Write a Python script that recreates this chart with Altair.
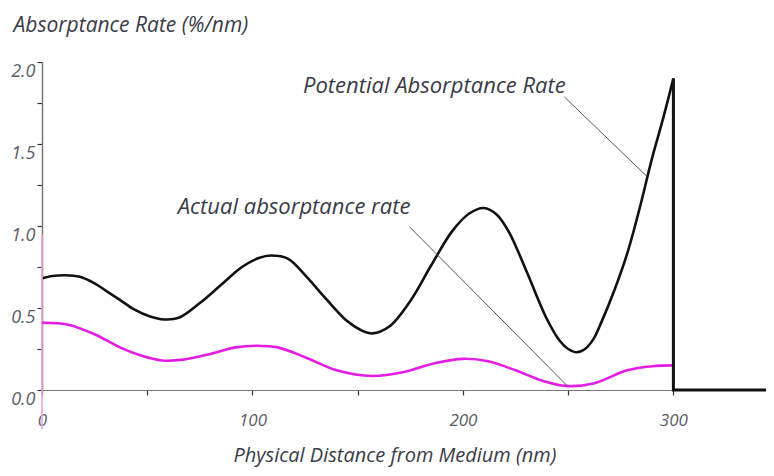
import altair as alt
import pandas as pd

# Potential absorptance rate (black curve)
dist_black = [0, 5, 11, 18, 25, 31, 37, 44, 51, 58, 65, 75, 85, 95, 103, 109, 117, 125, 135, 145, 152, 157,
              165, 175, 185, 195, 203, 210, 216, 222, 230, 240, 246, 250, 254, 258, 262, 266, 272, 278, 284, 290, 295, 300]
rate_black = [0.68, 0.695, 0.70, 0.69, 0.65, 0.60, 0.55, 0.49, 0.45, 0.43, 0.44, 0.53, 0.64, 0.75, 0.805, 0.82, 0.80, 0.70, 0.555, 0.42, 0.362, 0.345,
              0.387, 0.543, 0.762, 0.97, 1.076, 1.11, 1.07, 0.96, 0.73, 0.43, 0.30, 0.25, 0.23, 0.25, 0.31, 0.42, 0.61, 0.83, 1.11, 1.42, 1.65, 1.90]

# Actual absorptance rate (magenta curve)
dist_pink = [0, 12, 25, 37, 47, 57, 67, 80, 92, 102, 112, 125, 140, 157, 172, 187, 200, 212, 225, 237, 249, 262, 278, 290, 300]
rate_pink = [0.41, 0.40, 0.34, 0.26, 0.21, 0.18, 0.185, 0.22, 0.26, 0.27, 0.26, 0.20, 0.12, 0.085, 0.11, 0.165, 0.19, 0.175, 0.12, 0.06, 0.025, 0.04, 0.12, 0.145, 0.15]

# Drop to zero at the medium boundary
drop_x = [300, 300, 344]
drop_y = [1.90, 0.0, 0.0]

# Annotations
note_text = ["Potential Absorptance Rate", "Actual absorptance rate"]
note_x = [124, 64.5]
note_y = [1.81, 1.075]
leader_x = [248.2, 174.7]
leader_y = [1.787, 0.994]
leader_x2 = [287.2, 249.7]
leader_y2 = [1.305, 0.024]

x_ticks = [0, 50, 100, 150, 200, 250, 300]
y_ticks = [0, 0.25, 0.5, 0.75, 1.0, 1.25, 1.5, 1.75, 2.0]

FONT = "Open Sans"
TXT = "#3a3b48"
LAB = "#5a5d68"

df_black = pd.DataFrame({"d": dist_black, "r": rate_black})
df_pink = pd.DataFrame({"d": dist_pink, "r": rate_pink})
df_drop = pd.DataFrame({"d": drop_x, "r": drop_y, "o": list(range(len(drop_x)))})
df_notes = pd.DataFrame({"d": note_x, "r": note_y, "t": note_text})
df_lead = pd.DataFrame({"d": leader_x, "r": leader_y, "d2": leader_x2, "r2": leader_y2})
df_pinkaxis = pd.DataFrame({"d": [0], "r": [0.95], "r2": [-0.24]})

xs = alt.Scale(domain=[0, 344], nice=False, zero=False)
ys = alt.Scale(domain=[0, 2], nice=False)

x_axis = alt.Axis(
    values=x_ticks, labelExpr="datum.value % 100 == 0 ? datum.label : ''",
    title="Physical Distance from Medium (nm)", titleX=191, titleY=71,
    titleAlign="left", titleBaseline="alphabetic", titleAnchor="start",
    titleFont=FONT, titleFontSize=20, titleFontStyle="italic", titleFontWeight="normal", titleColor=TXT,
    labelFont=FONT, labelFontSize=17, labelFontStyle="italic", labelColor=LAB,
    labelBaseline="top", labelPadding=17, labelFlush=False, labelOverlap=False,
    tickSize=5, tickColor="#333333", tickWidth=1.2,
    domainColor="#777777", domainWidth=1.2, grid=False,
)
y_axis = alt.Axis(
    values=y_ticks, format=".1f", labelExpr="datum.value % 0.5 == 0 ? datum.label : ''",
    title="Absorptance Rate (%/nm)", titleAngle=0, titleX=-29, titleY=-31,
    titleAlign="left", titleBaseline="alphabetic",
    titleFont=FONT, titleFontSize=21, titleFontStyle="italic", titleFontWeight="normal", titleColor=TXT,
    labelFont=FONT, labelFontSize=18, labelFontStyle="italic", labelColor=LAB,
    labelBaseline="top", labelPadding=2, labelFlush=False, labelOverlap=False,
    tickSize=5, tickColor="#333333", tickWidth=1.2,
    domainColor="#777777", domainWidth=1.5, grid=False,
)

X = lambda f: alt.X(f, scale=xs, axis=x_axis)
Y = lambda f: alt.Y(f, scale=ys, axis=y_axis)

black = alt.Chart(df_black).mark_line(color="#111111", strokeWidth=2.6, interpolate="catmull-rom").encode(
    x=X("d:Q"), y=Y("r:Q"),
)
pink_axis = alt.Chart(df_pinkaxis).mark_rule(color="#e9a3d9", strokeWidth=1.6).encode(
    x=X("d:Q"), y=Y("r:Q"), y2="r2:Q",
)
pink = alt.Chart(df_pink).mark_line(color="#e41de4", strokeWidth=2.6, interpolate="catmull-rom").encode(
    x=X("d:Q"), y=Y("r:Q"),
)
drop = alt.Chart(df_drop).mark_line(color="#111111", strokeWidth=3).encode(
    x=X("d:Q"), y=Y("r:Q"), order="o:Q",
)
leaders = alt.Chart(df_lead).mark_rule(color="#555555", strokeWidth=1).encode(
    x=X("d:Q"), y=Y("r:Q"), x2="d2:Q", y2="r2:Q",
)
notes = alt.Chart(df_notes).mark_text(
    align="left", baseline="alphabetic", font=FONT, fontSize=22, fontStyle="italic", color=TXT
).encode(
    x=X("d:Q"), y=Y("r:Q"), text="t:N",
)

chart = alt.layer(black, pink_axis, pink, drop, leaders, notes).properties(
    width=724, height=328, autosize="none",
    padding={"left": 34, "top": 54, "right": 0, "bottom": 78},
    background="white",
).configure_view(stroke=None)

chart.save("out.html", embed_options={"renderer": "svg", "actions": False})
